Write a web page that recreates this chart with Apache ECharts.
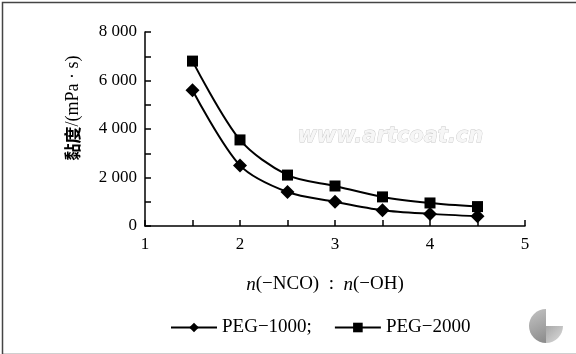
<!DOCTYPE html>
<html>
<head>
<meta charset="utf-8">
<script src="https://cdn.jsdelivr.net/npm/echarts@6/dist/echarts.min.js"></script>
<style>
  html, body { margin: 0; padding: 0; background: #fff; }
  #chart { width: 576px; height: 354px; }
</style>
</head>
<body>
<div id="chart"></div>
<script>
// n(-NCO):n(-OH) ratio
const ratios = [1.5, 2, 2.5, 3, 3.5, 4, 4.5];
// viscosity, mPa·s
const peg1000 = [5600, 2500, 1400, 1000, 650, 500, 400];
const peg2000 = [6800, 3550, 2100, 1650, 1200, 950, 800];
const seriesNames = ['PEG−1000', 'PEG−2000'];

const serif = '"Liberation Serif", "DejaVu Serif", serif';

let myChart = echarts.init(document.getElementById('chart'));

let option = {
  backgroundColor: '#fff',
  animation: false,
  grid: {
    left: 145,
    right: 51,
    top: 32,
    bottom: 128
  },
  legend: {
    bottom: 12,
    left: 165,
    itemWidth: 46,
    itemHeight: 12,
    itemGap: 22,
    textStyle: {
      fontFamily: serif,
      fontSize: 19,
      color: '#000'
    },
    formatter: function (name) {
      return name === seriesNames[0] ? name + ';' : name;
    },
    data: seriesNames
  },
  xAxis: {
    type: 'value',
    min: 1,
    max: 5,
    interval: 0.5,
    name: '{i|n}(−NCO)  :  {i|n}(−OH)',
    nameLocation: 'middle',
    nameGap: 49,
    nameTextStyle: {
      fontFamily: serif,
      fontSize: 19,
      color: '#000',
      padding: [0, 20, 0, 0],
      rich: {
        i: { fontFamily: serif, fontSize: 19, fontStyle: 'italic', color: '#000' }
      }
    },
    axisLine: { lineStyle: { color: '#000', width: 1.5 } },
    axisTick: { inside: true, length: 6, lineStyle: { color: '#000', width: 1.5 } },
    splitLine: { show: false },
    axisLabel: {
      color: '#000',
      fontFamily: serif,
      fontSize: 17,
      margin: 10,
      formatter: function (v) {
        return Number.isInteger(v) ? String(v) : '';
      }
    }
  },
  yAxis: {
    type: 'value',
    min: 0,
    max: 8000,
    interval: 1000,
    name: '{b|黏度}/(mPa · s)',
    nameLocation: 'middle',
    nameGap: 63,
    nameRotate: 90,
    nameTextStyle: {
      fontFamily: serif,
      fontSize: 18,
      color: '#000',
      padding: [0, 0, 0, 42],
      rich: {
        b: { fontFamily: '"Noto Sans CJK SC"', fontSize: 17, fontWeight: 'bold', color: '#000' }
      }
    },
    axisLine: { show: true, lineStyle: { color: '#000', width: 1.5 } },
    axisTick: { show: true, inside: true, length: 6, lineStyle: { color: '#000', width: 1.5 } },
    splitLine: { show: false },
    axisLabel: {
      color: '#000',
      fontFamily: serif,
      fontSize: 17,
      margin: 8,
      formatter: function (v) {
        if (v % 2000 !== 0) return '';
        if (v === 0) return '0';
        return String(v).replace(/(\d)(\d{3})$/, '$1 $2');
      }
    }
  },
  series: [
    {
      name: seriesNames[0],
      type: 'line',
      smooth: 0.3,
      symbol: 'diamond',
      symbolSize: 14,
      data: ratios.map((x, i) => [x, peg1000[i]]),
      itemStyle: { color: '#000' },
      lineStyle: { color: '#000', width: 2 }
    },
    {
      name: seriesNames[1],
      type: 'line',
      smooth: 0.3,
      symbol: 'rect',
      symbolSize: 11,
      data: ratios.map((x, i) => [x, peg2000[i]]),
      itemStyle: { color: '#000' },
      lineStyle: { color: '#000', width: 2 }
    }
  ],
  graphic: [
    {
      // outer frame
      type: 'rect',
      left: 0,
      top: 0,
      shape: { width: 575, height: 352 },
      style: { fill: 'none', stroke: '#444', lineWidth: 1.5 },
      silent: true
    },
    {
      // watermark
      type: 'text',
      left: 297,
      top: 126,
      style: {
        text: 'www.artcoat.cn',
        font: 'italic bold 21px "DejaVu Sans", sans-serif',
        fill: '#f6f6f6',
        stroke: '#c8c8c8',
        lineWidth: 0.8
      },
      silent: true
    },
    {
      // logo, left half
      type: 'sector',
      shape: { cx: 546, cy: 326, r: 17, startAngle: Math.PI / 2, endAngle: Math.PI * 1.5 },
      style: {
        fill: new echarts.graphic.LinearGradient(0, 0, 1, 1, [
          { offset: 0, color: '#c4c4c4' },
          { offset: 1, color: '#8a8a8a' }
        ])
      },
      silent: true
    },
    {
      // logo, lower right quarter
      type: 'sector',
      shape: { cx: 546, cy: 326, r: 17, startAngle: 0, endAngle: Math.PI / 2 },
      style: {
        fill: new echarts.graphic.LinearGradient(0, 0, 1, 1, [
          { offset: 0, color: '#a8a8a8' },
          { offset: 1, color: '#dcdcdc' }
        ])
      },
      silent: true
    }
  ]
};

myChart.setOption(option);
</script>
</body>
</html>
